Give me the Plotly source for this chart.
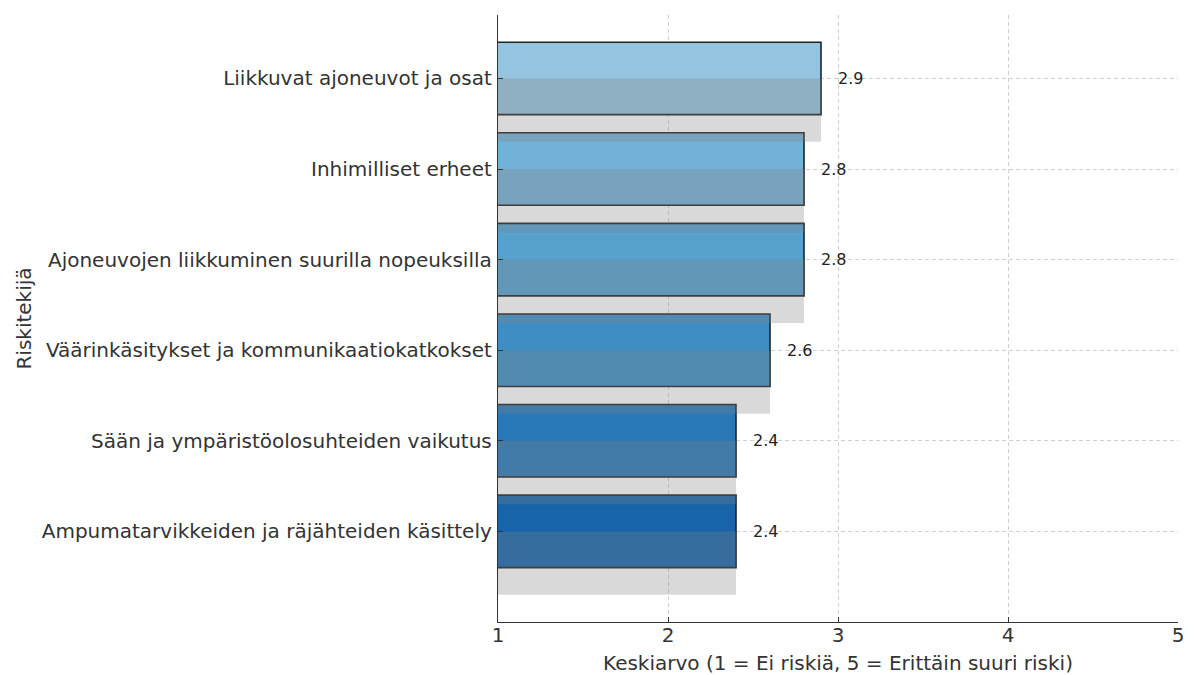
import plotly.graph_objects as go

# Data (bottom to top, as displayed)
categories = [
    "Ampumatarvikkeiden ja räjähteiden käsittely",
    "Sään ja ympäristöolosuhteiden vaikutus",
    "Väärinkäsitykset ja kommunikaatiokatkokset",
    "Ajoneuvojen liikkuminen suurilla nopeuksilla",
    "Inhimilliset erheet",
    "Liikkuvat ajoneuvot ja osat",
]
values = [2.4, 2.4, 2.6, 2.8, 2.8, 2.9]
bar_colors = ["#1764ab", "#2979b9", "#3e8ec4", "#57a1ce", "#73b2d8", "#94c4df"]
x_ticks = [1, 2, 3, 4, 5]
positions = list(range(len(categories)))

FONT = "DejaVu Sans"
TXT = "#333333"

fig = go.Figure()

# main bars
fig.add_trace(go.Bar(
    orientation="h", y=positions, x=values, width=0.8,
    marker=dict(color=bar_colors, line=dict(color="#222222", width=1.6)),
    showlegend=False, hoverinfo="skip",
))
# shadow (drawn above, semi-transparent)
fig.add_trace(go.Bar(
    orientation="h", y=positions, x=values, width=0.7, offset=-0.7,
    marker=dict(color="rgba(128,128,128,0.3)", line=dict(width=0)),
    showlegend=False, hoverinfo="skip",
))

annotations = []
for p, v in zip(positions, values):
    annotations.append(dict(
        x=v + 0.1, y=p, xref="x", yref="y", text=f"{v:.1f}",
        showarrow=False, xanchor="left", yanchor="middle", xshift=-2,
        font=dict(family=FONT, size=16, color="#222222"),
    ))

# page body adds 8px margin, so the figure is sized to fit the 1197x675 window
fig.update_layout(
    width=1189, height=667,
    margin=dict(l=490, r=19, t=7, b=53),
    paper_bgcolor="white", plot_bgcolor="white",
    barmode="overlay",
    font=dict(family=FONT, size=20, color=TXT),
    annotations=annotations,
    xaxis=dict(
        range=[1, 5], tickvals=x_ticks, ticktext=[str(t) for t in x_ticks],
        showgrid=True, gridcolor="#d0d0d0", griddash="4px,3px", gridwidth=1,
        showline=True, linecolor="#333333", linewidth=1.4,
        ticks="inside", ticklen=5, tickcolor="#333333", tickwidth=1.2,
        zeroline=False, ticklabelstandoff=-5,
        title=dict(text="Keskiarvo (1 = Ei riskiä, 5 = Erittäin suuri riski)",
                   font=dict(size=20, color=TXT), standoff=12),
        automargin=False,
    ),
    yaxis=dict(
        range=[-1.0, 5.7], tickvals=positions, ticktext=categories,
        showgrid=True, gridcolor="#d0d0d0", griddash="4px,3px", gridwidth=1,
        showline=True, linecolor="#333333", linewidth=1.4,
        ticks="inside", ticklen=5, tickcolor="#333333", tickwidth=1.2,
        zeroline=False, ticklabelstandoff=1,
        title=dict(text="Riskitekijä", font=dict(size=20, color=TXT), standoff=4),
        automargin=False,
    ),
)

fig.write_html("out.html")
